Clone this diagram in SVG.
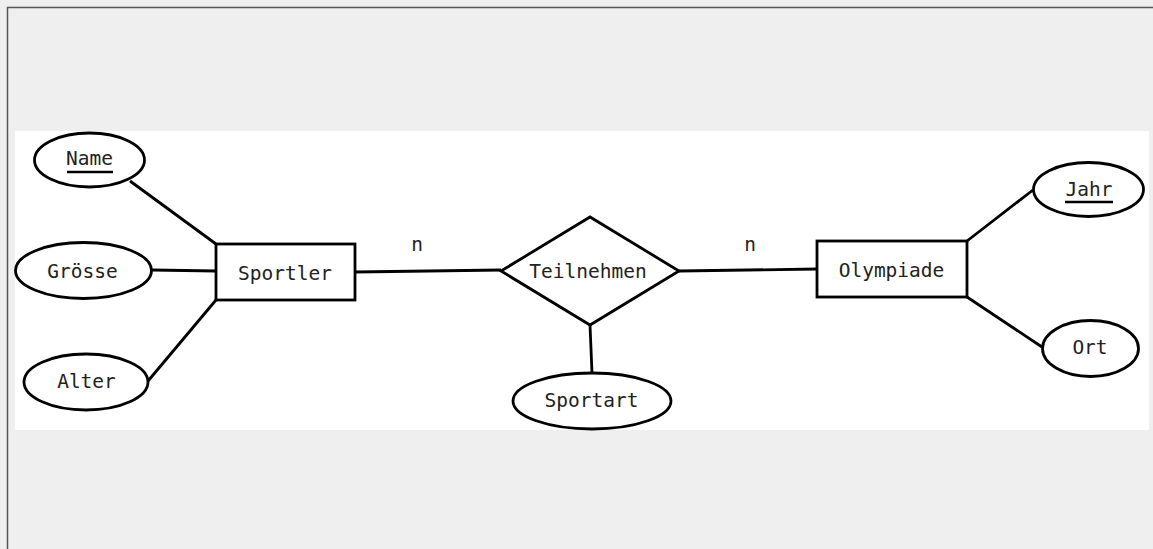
<svg xmlns="http://www.w3.org/2000/svg" width="1153" height="549" viewBox="0 0 1153 549">
<style>
.shape{fill:#fff;stroke:#000;stroke-width:2.8}
.conn line{stroke:#000;stroke-width:2.8}
text{font-family:"DejaVu Sans Mono","Liberation Mono",monospace;font-size:19.5px;fill:#222;text-anchor:middle}
.ul{stroke:#000;stroke-width:2.4}
</style>
<rect x="0" y="0" width="1153" height="549" fill="#efefef"/>
<path d="M7.5 549 V7.5 H1153" fill="none" stroke="#555" stroke-width="1.5"/>
<rect x="15" y="131" width="1134" height="299" fill="#fff"/>
<g class="conn">
<line x1="130" y1="181" x2="216" y2="244"/>
<line x1="152" y1="270" x2="216" y2="271"/>
<line x1="148" y1="381" x2="216" y2="300"/>
<line x1="355" y1="272" x2="501" y2="270"/>
<line x1="679" y1="271" x2="817" y2="269"/>
<line x1="590" y1="325" x2="592" y2="373"/>
<line x1="967" y1="241" x2="1033" y2="190"/>
<line x1="967" y1="297" x2="1042" y2="347"/>
</g>
<g id="name"><ellipse class="shape" cx="89.5" cy="160" rx="55" ry="27"/><text x="89.5" y="165">Name</text><line class="ul" x1="67" y1="172" x2="113" y2="172"/></g>
<g id="groesse"><ellipse class="shape" cx="83.5" cy="270.5" rx="68" ry="28"/><text x="82.5" y="278">Grösse</text></g>
<g id="alter"><ellipse class="shape" cx="86" cy="382" rx="62" ry="28"/><text x="86.5" y="388">Alter</text></g>
<g id="sportler"><rect class="shape" x="216" y="244" width="139" height="56"/><text x="285" y="280">Sportler</text></g>
<g id="teilnehmen"><polygon class="shape" points="501,271 590,217 679,271 590,325"/><text x="588" y="278">Teilnehmen</text></g>
<g id="sportart"><ellipse class="shape" cx="592" cy="401" rx="79" ry="28"/><text x="591.5" y="407">Sportart</text></g>
<g id="olympiade"><rect class="shape" x="817" y="241" width="150" height="56"/><text x="891.5" y="277">Olympiade</text></g>
<g id="jahr"><ellipse class="shape" cx="1088.5" cy="189.5" rx="55" ry="27"/><text x="1089" y="196">Jahr</text><line class="ul" x1="1065" y1="202" x2="1113" y2="202"/></g>
<g id="ort"><ellipse class="shape" cx="1090.5" cy="348.5" rx="48" ry="28"/><text x="1090" y="354">Ort</text></g>
<text x="417" y="251">n</text>
<text x="750" y="251">n</text>
</svg>
